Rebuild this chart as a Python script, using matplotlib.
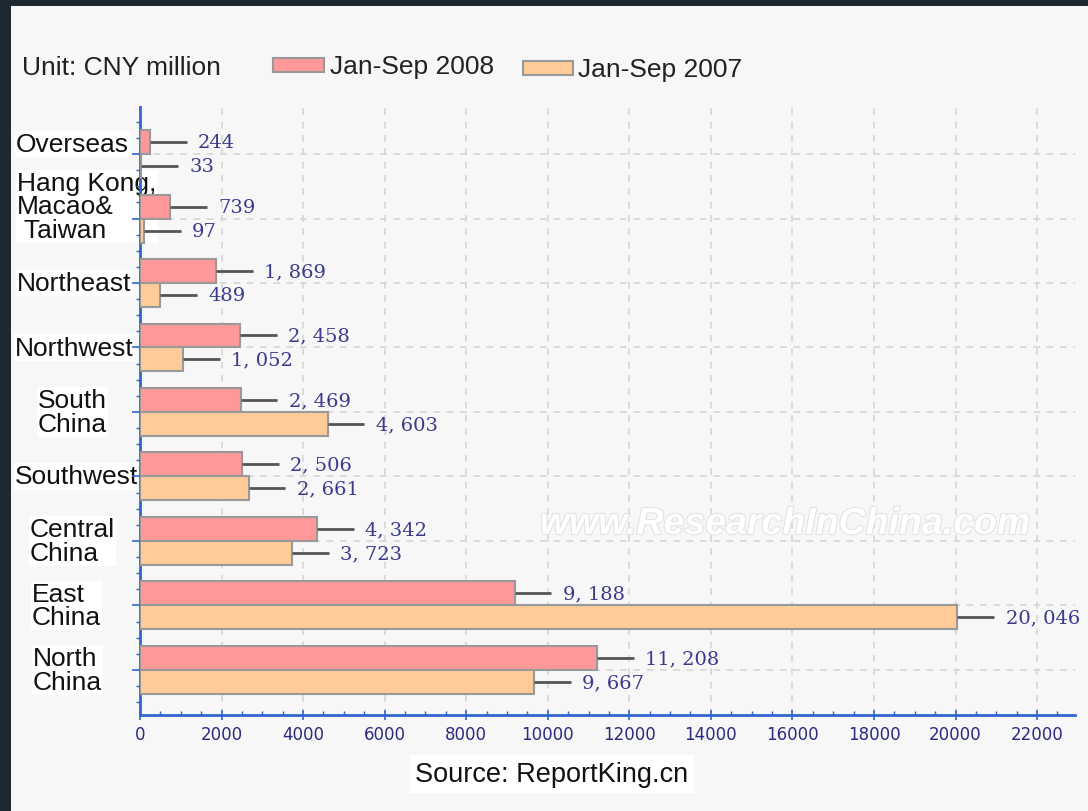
import numpy as np
import matplotlib.pyplot as plt
import matplotlib.patheffects as pe
from matplotlib.patches import Rectangle
from matplotlib.ticker import MultipleLocator

# data (top to bottom)
regions = ["Overseas", "Hang Kong,\nMacao&\n Taiwan", "Northeast", "Northwest",
           "South\nChina", "Southwest", "Central\nChina", "East\nChina", "North\nChina"]
sales_2008 = [244, 739, 1869, 2458, 2469, 2506, 4342, 9188, 11208]
sales_2007 = [33, 97, 489, 1052, 4603, 2661, 3723, 20046, 9667]
series_names = ["Jan-Sep 2008", "Jan-Sep 2007"]
unit_text = "Unit: CNY million"
source_text = "Source: ReportKing.cn"
watermark = "www.ResearchInChina.com"

# label layout (pixels in the 1088x812 canvas)
label_left_px = [16, 17, 17, 15, 38, 15, 30, 32, 33]
label_dy_px = [-10, -12, 0, 0, 0, 0, 0, 0, 0]

W, H = 1088, 812
c08 = "#ff9999"
c07 = "#ffcc99"
edge = "#999999"
blue = "#3366cc"
num_col = "#3a3a8c"
bg = "#f7f7f7"
txt_font = "Liberation Sans"

fig = plt.figure(figsize=(W / 100, H / 100), dpi=100)
fig.patch.set_facecolor("#1e2830")
fig.add_artist(Rectangle((11 / W, 0), 1, 1 - 7 / H, transform=fig.transFigure,
                         facecolor=bg, edgecolor="none", zorder=-10))

ax = fig.add_axes([140 / W, 1 - 716 / H, (1075 - 140) / W, (716 - 108) / H])
ax.patch.set_visible(False)

y = np.arange(len(regions))
h = 0.372
ax.barh(y - h / 2, sales_2008, height=h, color=c08, edgecolor=edge, linewidth=1.5, zorder=3)
ax.barh(y + h / 2, sales_2007, height=h, color=c07, edgecolor=edge, linewidth=1.5, zorder=3)

ax.set_xlim(0, 22930)
ax.set_ylim(len(regions) - 1 + 0.70, -0.73)

# leader lines + value labels
for vals, off in ((sales_2008, -h / 2), (sales_2007, h / 2)):
    for i, v in enumerate(vals):
        yy = i + off
        ax.plot([v, v + 900], [yy, yy], color="#555555", lw=2, zorder=4, solid_capstyle="butt")
        ax.text(v + 1180, yy, f"{v:,}".replace(",", ", "), color=num_col,
                fontsize=14, family="DejaVu Serif", va="center", ha="left", zorder=5)

# grid
ax.xaxis.set_major_locator(MultipleLocator(2000))
ax.xaxis.set_minor_locator(MultipleLocator(500))
ax.set_yticks(y)
ax.set_yticks(np.arange(-0.5, len(regions) - 0.5 + 0.01, 0.25), minor=True)
ax.grid(True, which="major", color="#d6d6d6", linestyle=(0, (4, 4)), lw=1.2, zorder=0)
ax.set_yticklabels([])
for s in ("top", "right"):
    ax.spines[s].set_visible(False)
for s in ("left", "bottom"):
    ax.spines[s].set_color(blue)
    ax.spines[s].set_linewidth(2)
ax.tick_params(axis="x", which="major", colors=blue, length=7, width=1.2, direction="inout",
               labelcolor="#2a2a80", labelsize=12, pad=4)
ax.tick_params(axis="x", which="minor", colors=blue, length=3, width=1, direction="in")
ax.tick_params(axis="y", which="major", colors=blue, length=6, width=1.2, direction="out")
ax.tick_params(axis="y", which="minor", colors=blue, length=3, width=1, direction="out")
for t in ax.get_xticklabels():
    t.set_family("DejaVu Sans")

# category labels (behind the axes so bars stay on top)
for i, lab in enumerate(regions):
    yc_px = 155 + i * 64.5 + label_dy_px[i]
    fig.text(label_left_px[i] / W, 1 - yc_px / H, lab, fontsize=19, family=txt_font,
             ha="left", va="center", linespacing=0.95, color="#111111", zorder=-5,
             bbox=dict(facecolor="white", edgecolor="none", pad=1))

# unit + legend
fig.text(22 / W, 1 - 68 / H, unit_text, fontsize=19, family=txt_font,
         ha="left", va="center", color="#222222")
legend_px = ((273, 324, 59, 330, 67), (523, 573, 62, 578, 70))
for (x0, x1, y0, tx, ty), col, name in zip(legend_px, (c08, c07), series_names):
    fig.add_artist(Rectangle((x0 / W, 1 - (y0 + 14) / H), (x1 - x0) / W, 14 / H,
                             transform=fig.transFigure,
                             facecolor=col, edgecolor=edge, linewidth=1.5))
    fig.text(tx / W, 1 - ty / H, name, fontsize=19, family=txt_font,
             ha="left", va="center", color="#222222")

# source
fig.text(552 / W, 1 - 775 / H, source_text, fontsize=19.5, family=txt_font,
         ha="center", va="center", color="#111111",
         bbox=dict(facecolor="white", edgecolor="none", pad=4))

# watermark
fig.text(785 / W, 1 - 525 / H, watermark, fontsize=27, family=txt_font,
         style="italic", weight="bold", ha="center", va="center", color="white", zorder=6,
         path_effects=[pe.withStroke(linewidth=1.5, foreground="#e2e2e2")])

fig.savefig("out.png", dpi=100, facecolor=fig.get_facecolor())
